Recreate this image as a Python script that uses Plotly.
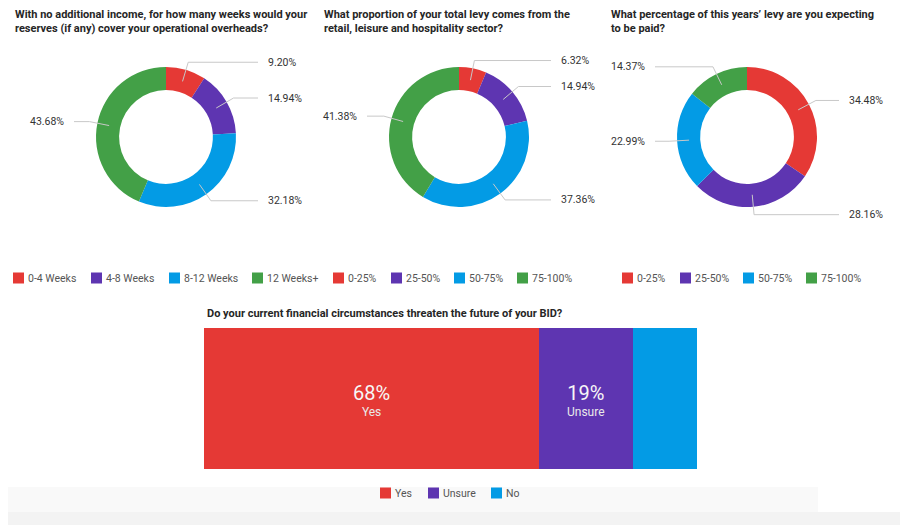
import math
import plotly.graph_objects as go

W, H = 900, 525

# ---- survey results -------------------------------------------------------
weeks_labels = ["0-4 Weeks", "4-8 Weeks", "8-12 Weeks", "12 Weeks+"]
weeks_values = [9.20, 14.94, 32.18, 43.68]

levy_labels = ["0-25%", "25-50%", "50-75%", "75-100%"]
levy_share_values = [6.32, 14.94, 37.36, 41.38]
levy_paid_values = [34.48, 28.16, 22.99, 14.37]

threat_labels = ["Yes", "Unsure", "No"]
threat_values = [68, 19, 13]

titles = [
    "With no additional income, for how many weeks would your<br>reserves (if any) cover your operational overheads?",
    "What proportion of your total levy comes from the<br>retail, leisure and hospitality sector?",
    "What percentage of this years\u2019 levy are you expecting<br>to be paid?",
]
bar_title = "Do your current financial circumstances threaten the future of your BID?"

COLORS = ["#e53935", "#5e35b1", "#039be5", "#43a047"]
TITLE_FONT = dict(family="Roboto, Arial, sans-serif", size=11, color="#262626")
LABEL_FONT = dict(family="Roboto, Arial, sans-serif", size=10.5, color="#333333")
LEGEND_FONT = dict(family="Roboto, Arial, sans-serif", size=10.5, color="#555555")


def px(x):
    return x / W


def py(y):
    return 1 - y / H


fig = go.Figure()
shapes = []
annotations = []

# ---- donut charts ---------------------------------------------------------
donuts = [
    dict(labels=weeks_labels, values=weeks_values, cx=166, title_x=13, legend_x=13),
    dict(labels=levy_labels, values=levy_share_values, cx=459, title_x=322, legend_x=333),
    dict(labels=levy_labels, values=levy_paid_values, cx=747, title_x=609, legend_x=622),
]
CY, R, HOLE = 137, 70, 0.67

for d, title in zip(donuts, titles):
    cx = d["cx"]
    fig.add_trace(go.Pie(
        labels=d["labels"], values=d["values"], hole=HOLE, sort=False,
        direction="clockwise", rotation=0, textinfo="none",
        marker=dict(colors=COLORS, line=dict(width=0)),
        hoverinfo="label+percent", showlegend=False,
        domain=dict(x=[px(cx - R), px(cx + R)], y=[py(CY + R), py(CY - R)]),
    ))

    annotations.append(dict(
        text=f"<b>{title.replace('<br>', '</b><br><b>')}</b>",
        x=px(d["title_x"]), y=py(6), xref="paper", yref="paper",
        xanchor="left", yanchor="top", align="left", showarrow=False,
        font=TITLE_FONT,
    ))

    # leader lines and outside value labels, placed from each slice's mid-angle
    total = sum(d["values"])
    cum = 0.0
    for v in d["values"]:
        ang = 2 * math.pi * (cum + v / 2) / total
        cum += v
        s, c = math.sin(ang), math.cos(ang)
        side = 1 if s >= 0 else -1
        x0, y0 = cx + 58 * s, CY - 58 * c
        x1, y1 = cx + 78 * s, CY - 78 * c
        x2 = cx + side * 92
        shapes.append(dict(
            type="path", xref="paper", yref="paper", layer="above",
            path=f"M{px(x0)},{py(y0)} L{px(x1)},{py(y1)} L{px(x2)},{py(y1)}",
            line=dict(color="#c8c8c8", width=1),
        ))
        annotations.append(dict(
            text=f"{v:.2f}%", x=px(cx + side * 100), y=py(y1),
            xref="paper", yref="paper", showarrow=False,
            xanchor="left" if side > 0 else "right", yanchor="middle",
            font=LABEL_FONT,
        ))

# ---- stacked horizontal bar -----------------------------------------------
for lab, v, col in zip(threat_labels, threat_values, COLORS):
    fig.add_trace(go.Bar(
        x=[v], y=[0], orientation="h", name=lab, marker=dict(color=col, line=dict(width=0)),
        showlegend=False, hovertemplate=f"{lab}: %{{x}}%<extra></extra>",
        xaxis="x", yaxis="y",
    ))

MIN_LABEL_SHARE = 15
cum = 0
for lab, v in zip(threat_labels, threat_values):
    mid = cum + v / 2
    cum += v
    if v < MIN_LABEL_SHARE:
        continue
    annotations.append(dict(
        text=f"<span style='font-size:20px;color:#f7f7f7'>{v}%</span><br>{lab}",
        x=mid, y=0, xref="x", yref="y", showarrow=False, yshift=-1,
        align="center",
        font=dict(family="Roboto, Arial, sans-serif", size=12, color="#e9e9e9"),
    ))

annotations.append(dict(
    text=f"<b>{bar_title}</b>", x=px(205), y=py(305), xref="paper", yref="paper",
    xanchor="left", yanchor="top", align="left", showarrow=False, font=TITLE_FONT,
))

# ---- legends (square keys + text) ----------------------------------------
KEY = 11
CHAR_W = 5.0
GAP = 19


def add_legend(labels, colors, x_start, y_row):
    xs = []
    x = x_start
    for lab in labels:
        xs.append(x)
        x += KEY + 3 + CHAR_W * len(lab) + GAP
    fig.add_trace(go.Scatter(
        x=[xi + KEY / 2 for xi in xs], y=[y_row] * len(xs), mode="markers",
        marker=dict(symbol="square", size=KEY, color=colors[:len(xs)], line=dict(width=0)),
        hoverinfo="skip", showlegend=False, xaxis="x2", yaxis="y2",
    ))
    for xi, lab in zip(xs, labels):
        annotations.append(dict(
            text=lab, x=xi + KEY + 2, y=y_row, xref="x2", yref="y2",
            xanchor="left", yanchor="middle", showarrow=False, font=LEGEND_FONT,
        ))


for d in donuts:
    add_legend(d["labels"], COLORS, d["legend_x"], 278)
add_legend(threat_labels, COLORS, 380, 493)

# footer bands
shapes.append(dict(type="rect", xref="paper", yref="paper", layer="below",
                   x0=px(8), x1=px(818), y0=py(512), y1=py(487),
                   fillcolor="#f9f9f9", line=dict(width=0)))
shapes.append(dict(type="rect", xref="paper", yref="paper", layer="below",
                   x0=px(8), x1=1, y0=0, y1=py(512),
                   fillcolor="#f3f3f3", line=dict(width=0)))

fig.update_layout(
    width=W, height=H, margin=dict(l=0, r=0, t=0, b=0),
    paper_bgcolor="white", plot_bgcolor="rgba(0,0,0,0)",
    barmode="stack", bargap=0,
    xaxis=dict(domain=[px(204), px(697)], range=[0, 100], visible=False, fixedrange=True),
    yaxis=dict(domain=[py(469), py(328)], range=[-0.5, 0.5], visible=False, fixedrange=True),
    xaxis2=dict(domain=[0, 1], range=[0, W], visible=False, fixedrange=True, anchor="y2"),
    yaxis2=dict(domain=[0, 1], range=[H, 0], visible=False, fixedrange=True, anchor="x2"),
    shapes=shapes, annotations=annotations, showlegend=False,
)

fig.write_html("out.html")
